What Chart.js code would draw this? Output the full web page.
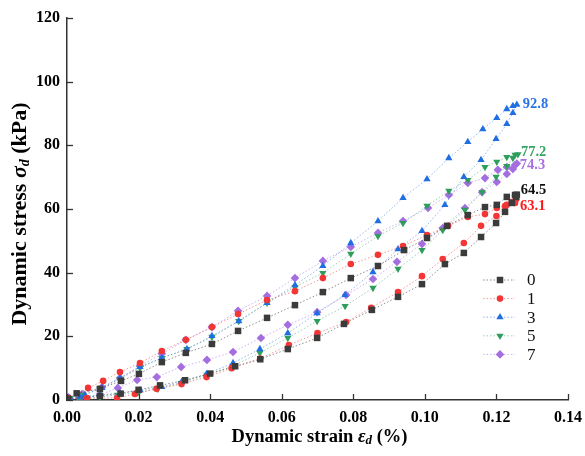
<!DOCTYPE html>
<html>
<head>
<meta charset="utf-8">
<script src="https://cdn.jsdelivr.net/npm/chart.js@4.4.0/dist/chart.umd.min.js"></script>
<style>
  html, body { margin: 0; padding: 0; background: #fff; }
  #wrap { width: 585px; height: 456px; }
</style>
</head>
<body>
<div id="wrap"><canvas id="chart-1" width="585" height="456"></canvas></div>
<script>
// Data: each series is a loop, loading branch up to the peak then unloading branch back

const seriesLabels = ['0', '1', '3', '5', '7'];
const peakLabels = ['64.5', '63.1', '92.8', '77.2', '74.3'];

const strain0 = [0.0003, 0.0092, 0.015, 0.020, 0.026, 0.033, 0.040, 0.047, 0.054, 0.0617, 0.0699, 0.0774, 0.0852, 0.0925, 0.0992, 0.1056, 0.1109, 0.1157, 0.1199, 0.1224, 0.1243, 0.1255, 0.1257,
    0.1252, 0.1229, 0.1201, 0.1168, 0.1120, 0.1062, 0.1006, 0.0942, 0.0869, 0.0793, 0.0715, 0.0637, 0.0559, 0.0478, 0.0405, 0.0332, 0.0265, 0.0201, 0.0151, 0.0092, 0.0027, 0.0003];
const stress0 = [0.3, 1.3, 2.0, 3.2, 4.6, 6.2, 8.3, 10.6, 12.8, 16.0, 19.5, 23.9, 28.3, 32.4, 36.4, 42.7, 46.2, 51.2, 55.6, 59.1, 61.9, 63.8, 64.5,
    64.4, 63.8, 61.3, 60.6, 58.1, 54.7, 50.9, 47.1, 42.1, 38.3, 33.9, 29.8, 25.8, 21.7, 17.6, 14.8, 11.9, 8.2, 6.0, 3.5, 2.1, 0.3];

const strain1 = [0.0005, 0.0056, 0.014, 0.019, 0.025, 0.032, 0.039, 0.046, 0.054, 0.062, 0.070, 0.078, 0.085, 0.0925, 0.0992, 0.105, 0.1109, 0.1157, 0.120, 0.1224, 0.1243, 0.1255,
    0.1252, 0.1229, 0.1201, 0.1168, 0.112, 0.1065, 0.1006, 0.0939, 0.0869, 0.0793, 0.0715, 0.0637, 0.0559, 0.0478, 0.0405, 0.0332, 0.0265, 0.0204, 0.0148, 0.0101, 0.0059, 0.0005];
const stress1 = [0.5, 0.6, 0.6, 1.9, 3.5, 5.0, 7.2, 10.0, 13.0, 17.3, 21.0, 24.5, 29.0, 33.9, 38.9, 44.3, 49.3, 54.7, 57.8, 60.9, 62.2, 63.1,
    61.9, 61.3, 60.3, 58.4, 57.5, 54.7, 51.8, 48.4, 45.6, 42.7, 38.3, 34.2, 31.4, 27.0, 22.9, 18.9, 15.4, 11.6, 8.8, 6.0, 3.8, 0.5];

const strain3 = [0.0005, 0.0036, 0.0092, 0.0148, 0.0204, 0.0265, 0.032, 0.039, 0.0464, 0.0539, 0.0617, 0.0699, 0.0777, 0.0855, 0.0925, 0.0992, 0.1056, 0.1109, 0.1157, 0.1199, 0.1229, 0.1246, 0.1257,
    0.1246, 0.1229, 0.1201, 0.1162, 0.112, 0.1067, 0.1006, 0.0939, 0.0869, 0.0793, 0.0715, 0.0637, 0.0559, 0.048, 0.0405, 0.0335, 0.0265, 0.0204, 0.0148, 0.0098, 0.005, 0.0008];
const stress3 = [0.3, 0.9, 1.6, 2.2, 3.1, 4.1, 5.7, 8.2, 11.6, 16.0, 21.0, 27.3, 33.0, 40.2, 47.4, 53.1, 61.3, 70.1, 75.4, 82.0, 86.7, 90.2, 92.8,
    92.4, 91.4, 88.6, 85.1, 81.1, 76.0, 69.4, 63.5, 56.2, 49.3, 42.1, 36.1, 30.5, 24.8, 20.1, 16.0, 13.2, 10.4, 6.9, 3.8, 1.6, 0.6];

const strain5 = [0.0005, 0.0036, 0.0092, 0.0142, 0.0201, 0.0254, 0.0319, 0.0391, 0.0464, 0.0539, 0.0617, 0.0699, 0.0777, 0.0855, 0.0925, 0.0992, 0.105, 0.1112, 0.116, 0.1199, 0.1229, 0.1246, 0.126,
    0.1252, 0.1229, 0.1201, 0.1168, 0.112, 0.1067, 0.1006, 0.0939, 0.0869, 0.0793, 0.0715, 0.0637, 0.0559, 0.048, 0.0405, 0.0335, 0.0265, 0.0204, 0.0148, 0.0092, 0.0045, 0.0008];
const stress5 = [0.3, 0.3, 0.9, 1.6, 2.5, 3.5, 5.3, 7.9, 10.7, 14.8, 19.5, 24.8, 29.5, 35.2, 41.2, 47.1, 53.4, 59.7, 65.3, 70.1, 73.5, 76.0, 77.2,
    77.0, 76.3, 74.8, 73.2, 69.1, 65.7, 61.0, 55.6, 51.5, 45.9, 39.9, 35.5, 30.5, 24.8, 19.8, 16.0, 13.2, 10.1, 6.6, 3.5, 1.6, 0.6];

const strain7 = [0.0003, 0.0036, 0.0092, 0.0142, 0.0196, 0.0251, 0.0319, 0.0391, 0.0464, 0.0542, 0.0617, 0.0699, 0.078, 0.0855, 0.0922, 0.0992, 0.105, 0.1112, 0.116, 0.1201, 0.1229, 0.1246, 0.1257,
    0.1252, 0.1229, 0.1204, 0.1168, 0.112, 0.1067, 0.1009, 0.0939, 0.0869, 0.0793, 0.0715, 0.0637, 0.0559, 0.0478, 0.0405, 0.0332, 0.0265, 0.0204, 0.0148, 0.0098, 0.0042, 0.0003];
const stress7 = [0.5, 0.6, 1.6, 3.8, 6.3, 7.2, 10.4, 12.6, 15.1, 19.5, 23.6, 27.6, 33.0, 38.0, 43.4, 49.0, 54.0, 60.3, 65.3, 68.5, 71.0, 72.6, 74.3,
    73.8, 73.2, 72.3, 69.7, 68.2, 64.4, 60.3, 56.2, 52.5, 48.1, 43.7, 38.3, 32.7, 28.0, 22.9, 18.9, 14.5, 10.7, 6.9, 4.1, 1.9, 0.9];

const xTicks = [0, 0.02, 0.04, 0.06, 0.08, 0.10, 0.12, 0.14];
const yTicks = [0, 20, 40, 60, 80, 100, 120];


// Styles

const FONT = '"Liberation Serif", "Times New Roman", serif';
const markerColors = ['#3b3b3b', '#f23636', '#1f6fe3', '#2e9e5c', '#a46ee0'];
const lineColors = ['rgba(70,70,70,0.6)', 'rgba(240,70,70,0.55)', 'rgba(60,120,230,0.55)', 'rgba(60,165,105,0.5)', 'rgba(165,115,230,0.55)'];
const labelColors = ['#111111', '#ff1a1a', '#2a72e8', '#35a464', '#a870e2'];
const pointStyles = ['rect', 'circle', 'triangle', 'triangle', 'rectRot'];
const pointRotations = [0, 0, 0, 180, 0];
const pointRadii = [4.6, 3.3, 4.2, 4.2, 4.3];
const labelOffsets = [[4, -4], [4, 7], [6, 0], [3, -2], [3, 2]];

const allStrain = [strain0, strain1, strain3, strain5, strain7];
const allStress = [stress0, stress1, stress3, stress5, stress7];

function toPoints(xs, ys) {
    return xs.map((x, i) => ({ x: x, y: ys[i] }));
}

const datasets = seriesLabels.map((lab, i) => ({
    label: lab,
    data: toPoints(allStrain[i], allStress[i]),
    showLine: true,
    borderColor: lineColors[i],
    borderWidth: 1,
    borderDash: [1.5, 2],
    pointStyle: pointStyles[i],
    rotation: pointRotations[i],
    pointRadius: pointRadii[i],
    pointBackgroundColor: markerColors[i],
    pointBorderColor: markerColors[i],
    pointBorderWidth: 0,
}));


// Plugins

// inward ticks on both axes
const innerTicks = {
    id: 'innerTicks',
    afterDraw(chart) {
        const ctx = chart.ctx;
        const xs = chart.scales.x, ys = chart.scales.y;
        const a = chart.chartArea;
        ctx.save();
        ctx.strokeStyle = '#333';
        ctx.lineWidth = 1.3;
        xTicks.forEach(v => {
            const px = Math.round(xs.getPixelForValue(v)) + 0.5;
            ctx.beginPath(); ctx.moveTo(px, a.bottom); ctx.lineTo(px, a.bottom - 6); ctx.stroke();
        });
        yTicks.forEach(v => {
            const py = Math.round(ys.getPixelForValue(v)) + 0.5;
            ctx.beginPath(); ctx.moveTo(a.left, py); ctx.lineTo(a.left + 6, py); ctx.stroke();
        });
        ctx.restore();
    }
};

function drawRich(ctx, parts, x, y, rotate) {
    ctx.save();
    ctx.translate(x, y);
    if (rotate) ctx.rotate(-Math.PI / 2);
    let total = 0;
    parts.forEach(p => { ctx.font = p.font; total += ctx.measureText(p.text).width; });
    let cx = -total / 2;
    ctx.textBaseline = 'middle';
    ctx.textAlign = 'left';
    ctx.fillStyle = '#000';
    parts.forEach(p => {
        ctx.font = p.font;
        ctx.fillText(p.text, cx, p.dy || 0);
        cx += ctx.measureText(p.text).width;
    });
    ctx.restore();
}

// axis titles with italic symbol and subscript
const axisTitles = {
    id: 'axisTitles',
    afterDraw(chart) {
        const ctx = chart.ctx;
        const a = chart.chartArea;
        drawRich(ctx, [
            { text: 'Dynamic strain ', font: 'bold 18.5px ' + FONT },
            { text: 'ε', font: 'italic bold 18.5px ' + FONT },
            { text: 'd', font: 'italic bold 13px ' + FONT, dy: 4 },
            { text: ' (%)', font: 'bold 18.5px ' + FONT },
        ], (a.left + a.right) / 2 + 2, 437, false);
        drawRich(ctx, [
            { text: 'Dynamic stress ', font: 'bold 22px ' + FONT },
            { text: 'σ', font: 'italic bold 22px ' + FONT },
            { text: 'd', font: 'italic bold 14px ' + FONT, dy: 5 },
            { text: ' (kPa)', font: 'bold 22px ' + FONT },
        ], 20, 214, true);
    }
};

// peak value labels next to the last loading point
const peakText = {
    id: 'peakText',
    afterDatasetsDraw(chart) {
        const ctx = chart.ctx;
        ctx.save();
        ctx.font = 'bold 14.5px ' + FONT;
        ctx.textAlign = 'left';
        ctx.textBaseline = 'middle';
        allStress.forEach((ys, i) => {
            const idx = ys.indexOf(Math.max(...ys));
            const pt = chart.getDatasetMeta(i).data[idx];
            ctx.fillStyle = labelColors[i];
            ctx.fillText(peakLabels[i], pt.x + labelOffsets[i][0], pt.y + labelOffsets[i][1]);
        });
        ctx.restore();
    }
};

// legend inside the plot: dotted line with marker and label
const innerLegend = {
    id: 'innerLegend',
    afterDraw(chart) {
        const ctx = chart.ctx;
        const x0 = 483, x1 = 515, xm = 500, xt = 527;
        const y0 = 280, dy = 18.6;
        ctx.save();
        seriesLabels.forEach((lab, i) => {
            const y = y0 + i * dy;
            ctx.strokeStyle = lineColors[i];
            ctx.lineWidth = 1;
            ctx.setLineDash([1.5, 2]);
            ctx.beginPath(); ctx.moveTo(x0, y); ctx.lineTo(x1, y); ctx.stroke();
            ctx.setLineDash([]);
            ctx.fillStyle = markerColors[i];
            ctx.strokeStyle = markerColors[i];
            Chart.helpers.drawPoint(ctx, {
                pointStyle: pointStyles[i], rotation: pointRotations[i],
                radius: pointRadii[i], borderWidth: 0
            }, xm, y);
            ctx.fillStyle = '#111';
            ctx.font = '17px ' + FONT;
            ctx.textAlign = 'left';
            ctx.textBaseline = 'middle';
            ctx.fillText(lab, xt, y + 1);
        });
        ctx.restore();
    }
};


// Chart

const config1 = {
    type: 'scatter',
    data: { datasets: datasets },
    options: {
        responsive: false,
        animation: false,
        devicePixelRatio: 1,
        layout: { padding: { left: 0, top: 18, right: 17, bottom: 0 } },
        plugins: {
            legend: { display: false },
            tooltip: { enabled: false },
        },
        scales: {
            x: {
                type: 'linear',
                min: 0,
                max: 0.14,
                afterFit(scale) {
                    scale.height = 56;
                    scale.paddingLeft = 0;
                    scale.paddingRight = 0;
                },
                afterBuildTicks(scale) { scale.ticks = xTicks.map(v => ({ value: v })); },
                ticks: {
                    padding: 8,
                    color: '#000',
                    font: { family: FONT, size: 16, weight: 'bold' },
                    callback: v => v.toFixed(2),
                },
                grid: { display: true, drawOnChartArea: false, drawTicks: false },
                border: { display: true, color: '#333', width: 1.5 },
            },
            y: {
                min: 0,
                max: 120,
                afterFit(scale) {
                    scale.width = 67;
                    scale.paddingTop = 0;
                    scale.paddingBottom = 0;
                },
                afterBuildTicks(scale) { scale.ticks = yTicks.map(v => ({ value: v })); },
                ticks: {
                    padding: 7,
                    color: '#000',
                    font: { family: FONT, size: 16, weight: 'bold' },
                },
                grid: { display: true, drawOnChartArea: false, drawTicks: false },
                border: { display: true, color: '#333', width: 1.5 },
            }
        }
    },
    plugins: [innerTicks, axisTitles, peakText, innerLegend],
};

const context1 = document.getElementById('chart-1').getContext('2d');
const chart1 = new Chart(context1, config1);
</script>
</body>
</html>
